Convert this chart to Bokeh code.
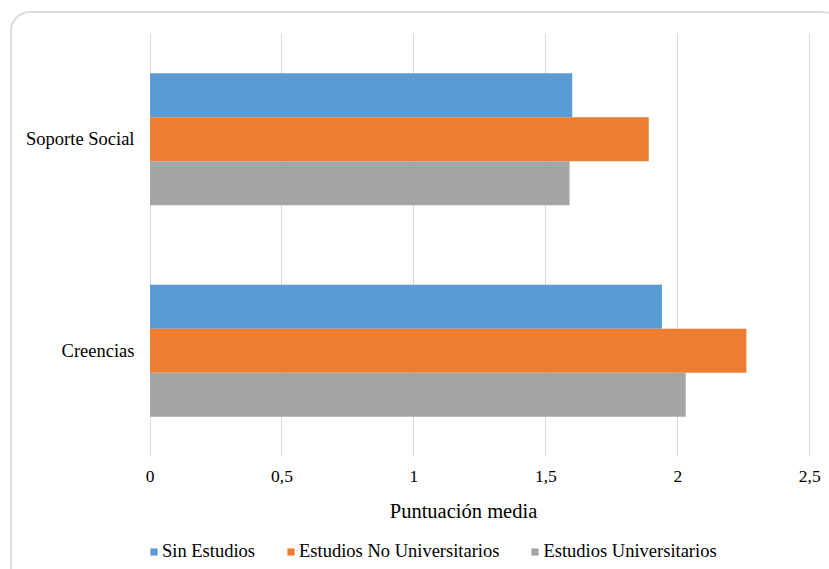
from bokeh.plotting import figure
from bokeh.layouts import column
from bokeh.models import (ColumnDataSource, FactorRange, Range1d, FixedTicker,
                          Legend, LegendItem, Label, InlineStyleSheet)
from bokeh.transform import dodge
from bokeh.embed import file_html
from bokeh.resources import INLINE

# Mean scores by education level
categories = ["Soporte Social", "Creencias"]
series_names = ["Sin Estudios", "Estudios No Universitarios", "Estudios Universitarios"]
sin_estudios = [1.60, 1.94]
no_universitarios = [1.89, 2.26]
universitarios = [1.59, 2.03]

x_ticks = [0, 0.5, 1, 1.5, 2, 2.5]
x_tick_labels = ["0", "0,5", "1", "1,5", "2", "2,5"]
x_title = "Puntuación media"
colors = ["#5B9BD5", "#ED7D31", "#A5A5A5"]
series_cols = ["s0", "s1", "s2"]

FONT = "Liberation Serif"
W = 829
MAIN_H = 495
FOOT_H = 74
LEFT = 149
RIGHT = 19

source = ColumnDataSource(dict(cat=categories, s0=sin_estudios,
                               s1=no_universitarios, s2=universitarios))

# ---- main chart: bars, grid and tick labels ----
p = figure(width=W, height=MAIN_H,
           y_range=FactorRange(factors=categories[::-1]),
           x_range=Range1d(-0.002, 2.503),
           output_backend="svg", toolbar_location=None,
           min_border_left=LEFT, min_border_right=RIGHT,
           min_border_top=33, min_border_bottom=39)

bar_h = 0.208
offsets = [bar_h, 0.0, -bar_h]
for col, off, c in zip(series_cols, offsets, colors):
    p.hbar(y=dodge("cat", off, range=p.y_range), right=col, left=0,
           height=bar_h, source=source, fill_color=c, line_color=None)

p.outline_line_color = None
p.background_fill_color = "white"
p.border_fill_color = "white"

p.ygrid.grid_line_color = None
p.xgrid.grid_line_color = "#D9D9D9"
p.xgrid.grid_line_width = 1
p.xgrid.ticker = FixedTicker(ticks=x_ticks)
p.xgrid.level = "underlay"

p.xaxis.ticker = FixedTicker(ticks=x_ticks)
p.xaxis.major_label_overrides = {t: l for t, l in zip(x_ticks, x_tick_labels)}
p.xaxis.axis_line_color = None
p.xaxis.major_tick_line_color = None
p.xaxis.minor_tick_line_color = None
p.xaxis.major_tick_out = 0
p.xaxis.major_tick_in = 0
p.xaxis.major_label_standoff = 14
p.xaxis.major_label_text_font = FONT
p.xaxis.major_label_text_font_size = "17.5px"
p.xaxis.major_label_text_color = "#000000"

p.yaxis.axis_line_color = None
p.yaxis.major_tick_line_color = None
p.yaxis.minor_tick_line_color = None
p.yaxis.major_tick_out = 0
p.yaxis.major_tick_in = 0
p.yaxis.major_label_standoff = 15
p.yaxis.major_label_text_font = FONT
p.yaxis.major_label_text_font_size = "18.5px"
p.yaxis.major_label_text_color = "#000000"

# ---- footer: axis title and legend ----
f = figure(width=W, height=FOOT_H, x_range=Range1d(0, 2.5),
           y_range=FactorRange(factors=categories[::-1]),
           output_backend="svg", toolbar_location=None,
           x_axis_location=None, y_axis_location=None,
           min_border_left=LEFT, min_border_right=RIGHT,
           min_border_top=0, min_border_bottom=0)
f.outline_line_color = None
f.background_fill_color = "white"
f.border_fill_color = "white"
f.grid.visible = False

f.add_layout(Label(x=463 - LEFT, y=59, x_units="screen", y_units="screen", text=x_title,
                   text_align="center", text_baseline="middle",
                   text_font=FONT, text_font_size="20.5px", text_color="#000000"))

# legend proxies: the same series, hidden, used only for the legend swatches
proxies = [f.hbar(y="cat", right=col, left=0, height=bar_h, source=source,
                  fill_color=c, line_color=None, visible=False)
           for col, c in zip(series_cols, colors)]
legend = Legend(items=[LegendItem(label=n, renderers=[r]) for n, r in zip(series_names, proxies)],
                orientation="horizontal", location=(0, 7),
                glyph_width=9, glyph_height=9, label_standoff=4,
                label_height=20, spacing=31, padding=0, margin=0,
                label_text_font=FONT, label_text_font_size="18.5px",
                label_text_color="#000000",
                border_line_color=None, background_fill_alpha=0)
f.add_layout(legend, "center")

layout = column(p, f, spacing=0)

# rounded chart border
layout.stylesheets = [InlineStyleSheet(css="""
:host { overflow: hidden; position: relative; }
:host::after {
  content: '';
  position: absolute;
  left: 10px; top: 11px; right: -13px; bottom: -20px;
  border: 2px solid #DCDCDC;
  border-radius: 20px;
  pointer-events: none;
}
""")]

open("out.html", "w").write(file_html(layout, INLINE))
